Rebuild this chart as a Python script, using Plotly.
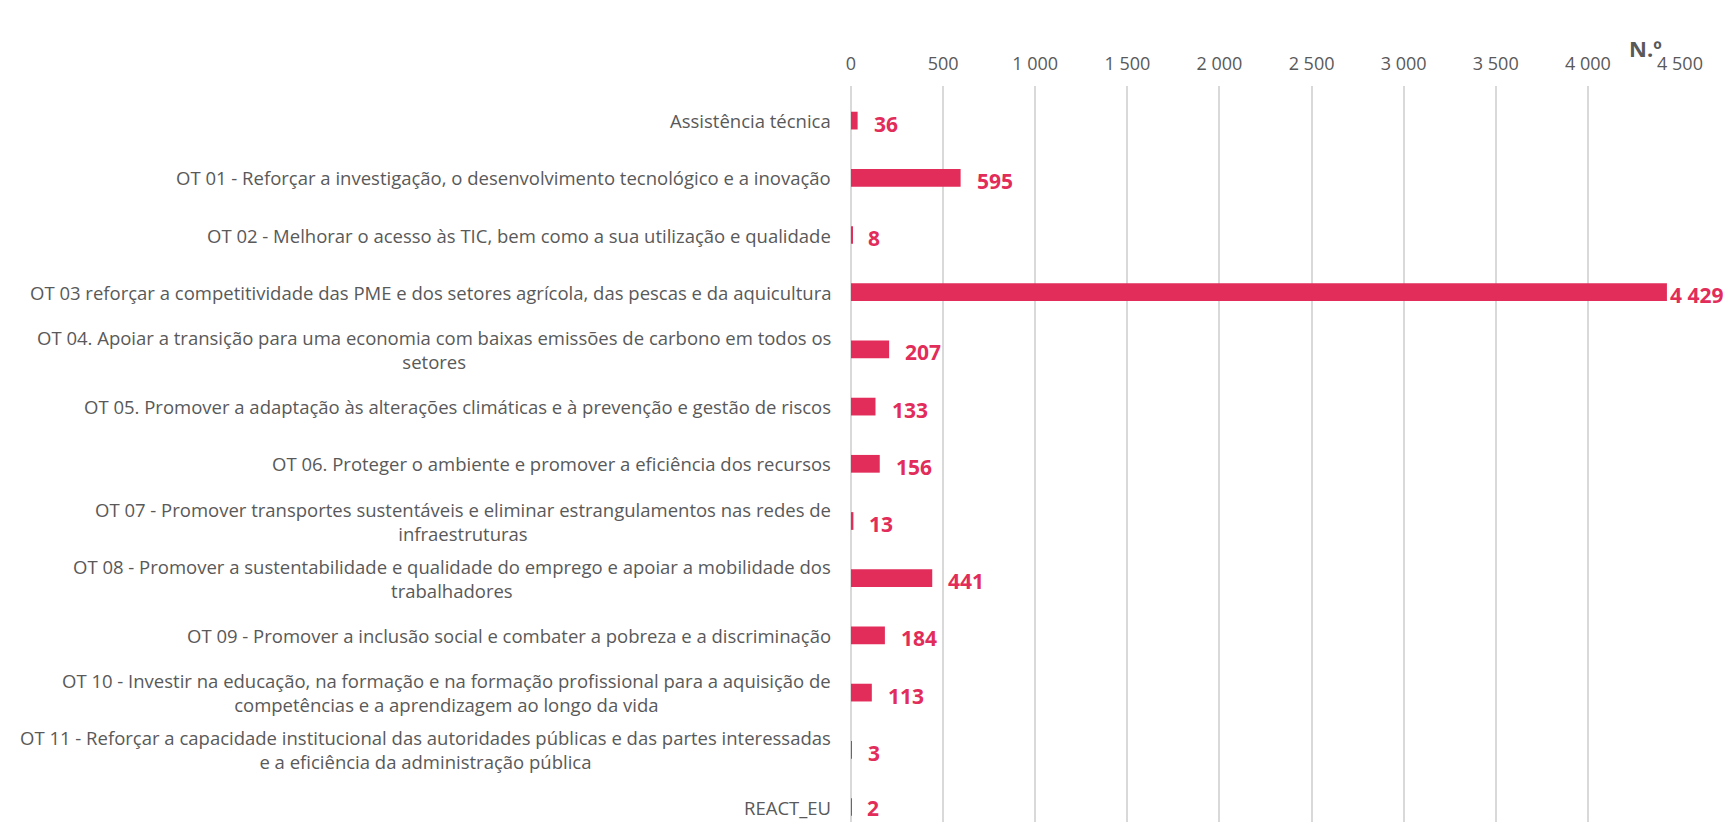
import plotly.graph_objects as go

categories = [
    "Assistência técnica",
    "OT 01 - Reforçar a investigação, o desenvolvimento tecnológico e a inovação",
    "OT 02 - Melhorar o acesso às TIC, bem como a sua utilização e qualidade",
    "OT 03 reforçar a competitividade das PME e dos setores agrícola, das pescas e da aquicultura",
    "OT 04. Apoiar a transição para uma economia com baixas emissões de carbono em todos os<br>setores",
    "OT 05. Promover a adaptação às alterações climáticas e à prevenção e gestão de riscos",
    "OT 06. Proteger o ambiente e promover a eficiência dos recursos",
    "OT 07 - Promover transportes sustentáveis e eliminar estrangulamentos nas redes de<br>infraestruturas",
    "OT 08 - Promover a sustentabilidade e qualidade do emprego e apoiar a mobilidade dos<br>trabalhadores",
    "OT 09 - Promover a inclusão social e combater a pobreza e a discriminação",
    "OT 10 - Investir na educação, na formação e na formação profissional para a aquisição de<br>competências e a aprendizagem ao longo da vida",
    "OT 11 - Reforçar a capacidade institucional das autoridades públicas e das partes interessadas<br>e a eficiência da administração pública",
    "REACT_EU",
]
values = [36, 595, 8, 4429, 207, 133, 156, 13, 441, 184, 113, 3, 2]
tick_vals = [0, 500, 1000, 1500, 2000, 2500, 3000, 3500, 4000, 4500]
tick_text = ["0", "500", "1 000", "1 500", "2 000", "2 500", "3 000", "3 500", "4 000", "4 500"]

BAR = "#E22C59"
GREY = "#595959"
FONT = "Open Sans"

ypos = list(range(len(categories)))

# page body has an 8px margin; compensate so the plot lands where the reference has it
OFF = 8
W, H = 1731 - 2 * OFF, 830 - 2 * OFF
L = 851 - OFF
R = W - (1680 - OFF)
T = 86 - OFF
B = 0
ROW = 57.2  # px per category
first_center = 120.6 - OFF
top_val = -0.5 - ((first_center - T) / ROW - 0.5)

fig = go.Figure()
fig.add_trace(go.Bar(
    x=values, y=ypos, orientation="h", width=0.31,
    marker=dict(color=BAR, line=dict(width=0)),
    hoverinfo="skip",
))

annotations = []
n = len(categories)
for i, (c, v) in enumerate(zip(categories, values)):
    annotations.append(dict(
        x=0, y=i, xref="paper", yref="y", text=c, showarrow=False,
        xanchor="right", yanchor="middle", align="center", xshift=-18,
        font=dict(family=FONT, size=18.5, color=GREY),
    ))
    lbl = f"{v:,}".replace(",", " ")
    annotations.append(dict(
        x=v, y=i, xref="x", yref="y", text=f"<b>{lbl}</b>", showarrow=False,
        xanchor="left", yanchor="middle",
        xshift=(1 if v == max(values) else 14),
        yshift=(-1 if i == n - 1 else -3),
        font=dict(family=FONT, size=21, color=BAR),
    ))

plot_w = W - L - R
plot_h = H - T - B
annotations.append(dict(
    x=(1645 - OFF - L) / plot_w, y=1 + (T - (48 - OFF)) / plot_h,
    xref="paper", yref="paper", text="<b>N.º</b>", showarrow=False,
    xanchor="center", yanchor="middle",
    font=dict(family=FONT, size=22, color=GREY),
))

span = plot_h / ROW

fig.update_layout(
    width=W, height=H,
    margin=dict(l=L, r=R, t=T, b=B, pad=0),
    plot_bgcolor="white", paper_bgcolor="white",
    showlegend=False,
    annotations=annotations,
    xaxis=dict(
        side="top", range=[0, 4500], tickvals=tick_vals, ticktext=tick_text,
        showgrid=True, gridcolor="#D9D9D9", gridwidth=1.5,
        zeroline=True, zerolinecolor="#D9D9D9", zerolinewidth=1.5,
        showline=False, ticks="", ticklabelstandoff=11,
        tickfont=dict(family=FONT, size=18, color=GREY),
        fixedrange=True,
    ),
    yaxis=dict(
        range=[top_val + span, top_val], showticklabels=False, showgrid=False,
        zeroline=False, showline=False, ticks="", fixedrange=True,
    ),
)

fig.write_html("out.html")
